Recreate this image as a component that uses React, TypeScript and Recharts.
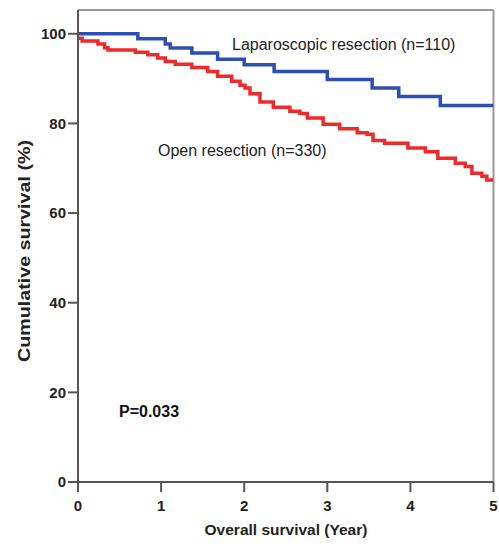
import React from 'react';
import { LineChart, Line, XAxis, YAxis, ReferenceLine } from 'recharts';

// Laparoscopic resection (n=110): [year, cumulative survival %]
const lapYears = [0, 0.72, 1.05, 1.11, 1.37, 1.68, 2.0, 2.36, 3.0, 3.54, 3.86, 4.36, 5];
const lapSurvival = [100, 98.9, 97.7, 96.8, 95.7, 94.3, 93.1, 91.6, 89.8, 87.9, 86.0, 84.0, 84.0];

// Open resection (n=330)
const openYears = [
  0, 0.05, 0.24, 0.32, 0.36, 0.69, 0.84, 0.96, 1.05, 1.17, 1.37, 1.56, 1.68, 1.85, 1.95,
  2.01, 2.07, 2.19, 2.35, 2.55, 2.67, 2.76, 2.95, 3.15, 3.36, 3.48, 3.55, 3.69, 3.97,
  4.18, 4.33, 4.54, 4.66, 4.74, 4.86, 4.92, 5,
];
const openSurvival = [
  99.0, 98.4, 97.7, 96.9, 96.4, 95.9, 95.3, 94.6, 93.8, 93.2, 92.5, 91.6, 90.5, 89.4, 88.5,
  87.9, 86.6, 84.8, 83.6, 82.7, 82.2, 81.2, 79.8, 78.8, 77.9, 77.6, 76.2, 75.6, 74.5,
  73.7, 72.2, 71.1, 70.4, 68.9, 68.2, 67.4, 67.4,
];

const xTicks = [0, 1, 2, 3, 4, 5];
const yTicks = [0, 20, 40, 60, 80, 100];
const yMax = 105.3;

const lapData = lapYears.map((t, i) => ({ t, s: lapSurvival[i] }));
const openData = openYears.map((t, i) => ({ t, s: openSurvival[i] }));

const FONT = '"Liberation Sans", Arial, sans-serif';
const tickStyle = { fill: '#222', fontSize: 15, fontWeight: 'bold' as const, fontFamily: FONT };

export default function App() {
  return (
    <div style={{ position: 'absolute', left: 0, top: 0, width: 499, height: 548, background: '#fff' }}>
      <LineChart
        width={499}
        height={548}
        margin={{ top: 10, right: 5.5, left: 0, bottom: 26 }}
      >
        <XAxis
          type="number"
          dataKey="t"
          domain={[0, 5]}
          ticks={xTicks}
          allowDataOverflow
          tick={tickStyle}
          tickSize={10}
          tickMargin={8}
          height={40}
          axisLine={{ stroke: '#555', strokeWidth: 2 }}
          tickLine={{ stroke: '#555', strokeWidth: 2 }}
        />
        <YAxis
          type="number"
          domain={[0, yMax]}
          ticks={yTicks}
          allowDataOverflow
          tick={tickStyle}
          tickSize={10}
          tickMargin={2}
          width={78}
          axisLine={{ stroke: '#555', strokeWidth: 2 }}
          tickLine={{ stroke: '#555', strokeWidth: 2 }}
        />
        <ReferenceLine y={yMax} stroke="#999" strokeWidth={2} />
        <ReferenceLine x={5} stroke="#999" strokeWidth={2} />
        <Line
          data={lapData}
          dataKey="s"
          type="stepAfter"
          stroke="#2d4fb4"
          strokeWidth={3.5}
          dot={false}
          isAnimationActive={false}
        />
        <Line
          data={openData}
          dataKey="s"
          type="stepAfter"
          stroke="#ee2a2a"
          strokeWidth={3.5}
          dot={false}
          isAnimationActive={false}
        />
      </LineChart>
      <svg
        width={499}
        height={548}
        style={{ position: 'absolute', left: 0, top: 0, pointerEvents: 'none' }}
      >
        <text x={232} y={50} fontSize={16} fill="#222" fontFamily={FONT}>
          Laparoscopic resection (n=110)
        </text>
        <text x={158} y={156} fontSize={16} fill="#222" fontFamily={FONT}>
          Open resection (n=330)
        </text>
        <text x={119} y={417} fontSize={16} fontWeight="bold" fill="#111" fontFamily={FONT}>
          P=0.033
        </text>
        <text x={286} y={535} fontSize={15.5} fontWeight="bold" fill="#222" fontFamily={FONT} textAnchor="middle">
          Overall survival (Year)
        </text>
        <text
          x={0}
          y={0}
          fontSize={17}
          fontWeight="bold"
          fill="#222"
          fontFamily={FONT}
          textAnchor="middle"
          transform="translate(30, 251) rotate(-90)"
          textLength={222}
          lengthAdjust="spacingAndGlyphs"
        >
          Cumulative survival (%)
        </text>
      </svg>
    </div>
  );
}
